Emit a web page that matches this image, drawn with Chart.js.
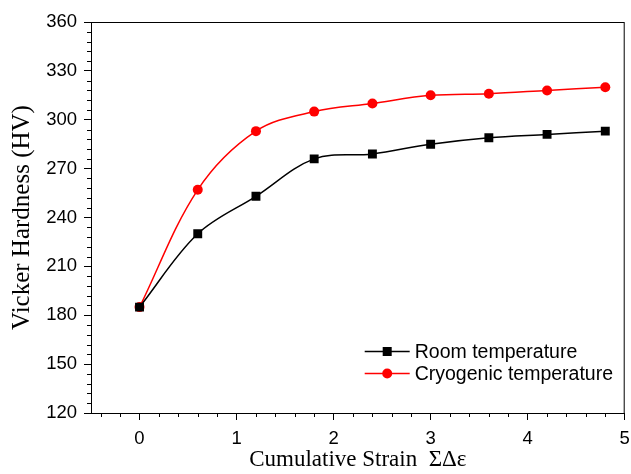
<!DOCTYPE html>
<html>
<head>
<meta charset="utf-8">
<script src="https://cdn.jsdelivr.net/npm/chart.js@4.4.1/dist/chart.umd.min.js"></script>
<style>
  html, body { margin: 0; padding: 0; background: #fff; }
  #wrap { width: 631px; height: 474px; }
</style>
</head>
<body>
<div id="wrap"><canvas id="chart" width="631" height="474"></canvas></div>
<script>
const strain = [0, 0.6, 1.2, 1.8, 2.4, 3.0, 3.6, 4.2, 4.8];
const roomHardness = [185, 230, 253, 276, 279, 285, 289, 291, 293];
const cryoHardness = [185, 257, 293, 305, 310, 315, 316, 318, 320];
const xTicks = [0, 1, 2, 3, 4, 5];
const yTicks = [120, 150, 180, 210, 240, 270, 300, 330, 360];

const SANS = "'Liberation Sans', Arial, sans-serif";
const SERIF = "'Liberation Serif', 'Times New Roman', serif";

function toPoints(ys) {
  return strain.map((x, i) => ({ x, y: ys[i] }));
}

// minor ticks, frame box and the inline legend
const decorPlugin = {
  id: "decor",
  afterDraw(chart) {
    const { ctx, chartArea: a, scales } = chart;
    ctx.save();
    ctx.strokeStyle = "#000";
    ctx.lineWidth = 1;
    ctx.strokeRect(a.left + 0.5, a.top + 0.5, a.right - a.left - 1, a.bottom - a.top);

    ctx.beginPath();
    for (let i = -2; i <= 24; i++) {
      if (i % 5 === 0) continue;
      const px = Math.round(scales.x.getPixelForValue(i / 5)) + 0.5;
      ctx.moveTo(px, a.bottom);
      ctx.lineTo(px, a.bottom + 4);
    }
    for (let v = 126; v < 360; v += 6) {
      if (v % 30 === 0) continue;
      const py = Math.round(scales.y.getPixelForValue(v)) + 0.5;
      ctx.moveTo(a.left, py);
      ctx.lineTo(a.left - 4, py);
    }
    ctx.stroke();

    const x0 = a.right - 260;
    chart.data.datasets.forEach((ds, i) => {
      const y = Math.round(a.bottom - 62 + i * 22) + 0.5;
      ctx.strokeStyle = ds.borderColor;
      ctx.lineWidth = 1.5;
      ctx.beginPath();
      ctx.moveTo(x0, y);
      ctx.lineTo(x0 + 45, y);
      ctx.stroke();
      ctx.fillStyle = ds.pointBackgroundColor;
      const cx = x0 + 22.5;
      if (ds.pointStyle === "rect") {
        ctx.fillRect(cx - 4.5, y - 4.5, 9, 9);
      } else {
        ctx.beginPath();
        ctx.arc(cx, y, 5, 0, Math.PI * 2);
        ctx.fill();
      }
      ctx.fillStyle = "#000";
      ctx.font = "19.5px " + SANS;
      ctx.textBaseline = "middle";
      ctx.textAlign = "left";
      ctx.fillText(ds.label, x0 + 50, y + 1);
    });
    ctx.restore();
  },
};

new Chart(document.getElementById("chart"), {
  type: "line",
  data: {
    datasets: [
      {
        label: "Room temperature",
        data: toPoints(roomHardness),
        borderColor: "#000000",
        backgroundColor: "#000000",
        pointBackgroundColor: "#000000",
        pointBorderColor: "#000000",
        pointStyle: "rect",
        pointRadius: 6.3,
        pointBorderWidth: 0,
        borderWidth: 1.5,
        tension: 0.35,
      },
      {
        label: "Cryogenic temperature",
        data: toPoints(cryoHardness),
        borderColor: "#ff0000",
        backgroundColor: "#ff0000",
        pointBackgroundColor: "#ff0000",
        pointBorderColor: "#ff0000",
        pointStyle: "circle",
        pointRadius: 5,
        pointBorderWidth: 0,
        borderWidth: 1.5,
        tension: 0.35,
      },
    ],
  },
  options: {
    responsive: false,
    animation: false,
    layout: { padding: { top: 22, right: 4, left: 0, bottom: 0 } },
    plugins: {
      legend: { display: false },
      tooltip: { enabled: false },
    },
    scales: {
      x: {
        type: "linear",
        min: -0.5,
        max: 5,
        afterBuildTicks: (scale) => {
          scale.ticks = xTicks.map((value) => ({ value }));
        },
        afterFit: (scale) => {
          scale.height = 61;
          scale.paddingLeft = 0;
          scale.paddingRight = 0;
        },
        ticks: {
          color: "#000",
          font: { family: SANS, size: 18.5 },
          padding: 8,
          maxRotation: 0,
        },
        grid: {
          drawOnChartArea: false,
          tickLength: 7,
          tickColor: "#000",
        },
        border: { color: "#000", width: 1 },
        title: {
          display: true,
          text: "Cumulative Strain  ΣΔε",
          color: "#000",
          font: { family: SERIF, size: 23 },
          padding: { top: 0, bottom: 0 },
        },
      },
      y: {
        min: 120,
        max: 360,
        afterBuildTicks: (scale) => {
          scale.ticks = yTicks.map((value) => ({ value }));
        },
        afterFit: (scale) => {
          scale.width = 91;
          scale.paddingTop = 0;
          scale.paddingBottom = 0;
        },
        ticks: {
          color: "#000",
          font: { family: SANS, size: 18.5 },
          padding: 7,
        },
        grid: {
          drawOnChartArea: false,
          tickLength: 7,
          tickColor: "#000",
        },
        border: { color: "#000", width: 1 },
        title: {
          display: true,
          text: "Vicker Hardness (HV)",
          color: "#000",
          font: { family: SERIF, size: 25 },
          padding: { top: 7, bottom: 0 },
        },
      },
    },
  },
  plugins: [decorPlugin],
});
</script>
</body>
</html>
